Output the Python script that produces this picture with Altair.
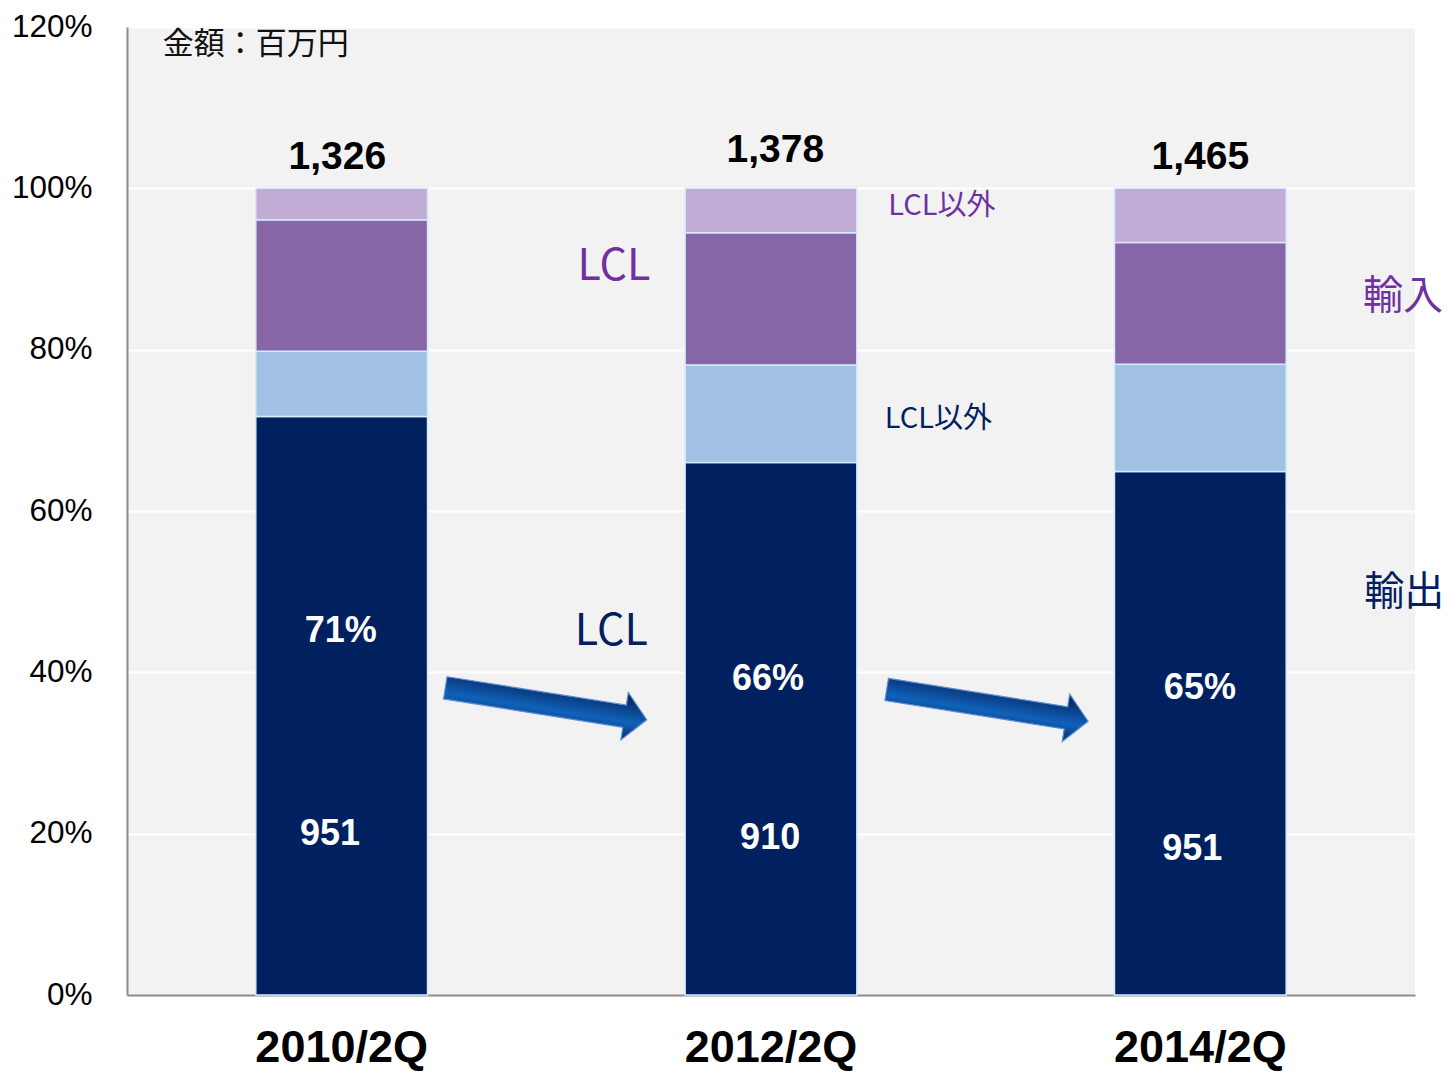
import altair as alt
import pandas as pd

# ---- data ----
periods = ["2010/2Q", "2012/2Q", "2014/2Q"]
totals = ["1,326", "1,378", "1,465"]
export_lcl_values = ["951", "910", "951"]
export_lcl_pct = ["71%", "66%", "65%"]

segments = ["輸出 LCL", "輸出 LCL以外", "輸入 LCL", "輸入 LCL以外"]
share_export_lcl = [71.7, 66.0, 64.9]
share_export_other = [8.1, 12.1, 13.3]
share_import_lcl = [16.3, 16.4, 15.1]
share_import_other = [3.9, 5.5, 6.7]

seg_colors = ["#002060", "#a0c0e4", "#8666a6", "#c0acd4"]

rows = []
for i, p in enumerate(periods):
    for k, (seg, vals) in enumerate(zip(segments, [share_export_lcl, share_export_other,
                                                    share_import_lcl, share_import_other])):
        rows.append({"period": p, "segment": seg, "share": vals[i], "ord": k})
bars_df = pd.DataFrame(rows)

XS = alt.Scale(domain=[0, 3], nice=False, zero=False)
YS = alt.Scale(domain=[0, 120], nice=False)
Y_AXIS = alt.Axis(values=[0, 20, 40, 60, 80, 100, 120],
                  labelExpr="datum.value + '%'", labelFontSize=31.5,
                  labelFont="Liberation Sans", labelColor="#000000",
                  labelPadding=35, ticks=False, domainColor="#8c8c8c",
                  domainWidth=2, gridColor="#ffffff", gridWidth=2, title=None)

bars = alt.Chart(bars_df).mark_bar(stroke="#d4ebff", strokeWidth=1.5).encode(
    x=alt.X("period:N", sort=periods, title=None,
            scale=alt.Scale(paddingInner=0.6, paddingOuter=0.3),
            axis=alt.Axis(labelAngle=0, labelFontSize=45, labelFontWeight="bold",
                          labelFont="Liberation Sans", labelColor="#000000",
                          labelPadding=30, ticks=False, domainColor="#8c8c8c",
                          domainWidth=2)),
    y=alt.Y("share:Q", stack="zero", scale=YS, title=None, axis=Y_AXIS),
    color=alt.Color("segment:N", scale=alt.Scale(domain=segments, range=seg_colors), legend=None),
    order=alt.Order("ord:Q"),
)


def txt(df, **kw):
    return alt.Chart(pd.DataFrame(df)).mark_text(**kw).encode(
        x=alt.X("x:Q", scale=XS, axis=None),
        y=alt.Y("y:Q", scale=YS, title=None, axis=Y_AXIS),
        text="t:N",
    )


total_lbl = txt({"x": [0.49, 1.51, 2.5], "y": [103.9, 104.8, 103.9], "t": totals},
                font="Liberation Sans", fontSize=39, fontWeight="bold", color="#000000",
                baseline="middle")
pct_lbl = txt({"x": [0.498, 1.493, 2.499], "y": [45.1, 39.2, 38.1], "t": export_lcl_pct},
              font="Liberation Sans", fontSize=36, fontWeight="bold", color="#ffffff",
              baseline="middle")
val_lbl = txt({"x": [0.473, 1.498, 2.481], "y": [20.0, 19.5, 18.1], "t": export_lcl_values},
              font="Liberation Sans", fontSize=36, fontWeight="bold", color="#ffffff",
              baseline="middle")
unit_lbl = txt({"x": [0.083], "y": [117.8], "t": ["金額：百万円"]},
               font="Noto Sans CJK JP", fontSize=31, color="#111111", align="left",
               baseline="middle")
lcl_purple = txt({"x": [1.134], "y": [90.3], "t": ["LCL"]},
                 font="Noto Sans CJK JP", fontSize=43, color="#7030a0", baseline="middle")
lcl_navy = txt({"x": [1.128], "y": [45.0], "t": ["LCL"]},
               font="Noto Sans CJK JP", fontSize=43, color="#002060", baseline="middle")
other_purple = txt({"x": [1.898], "y": [97.8], "t": ["LCL以外"]},
                   font="Noto Sans CJK JP", fontSize=29, color="#7030a0", baseline="middle")
other_navy = txt({"x": [1.890], "y": [71.4], "t": ["LCL以外"]},
                 font="Noto Sans CJK JP", fontSize=29, color="#002060", baseline="middle")
imp_lbl = txt({"x": [2.972], "y": [86.5], "t": ["輸入"]},
              font="Noto Sans CJK JP", fontSize=40, color="#7030a0", baseline="middle")
exp_lbl = txt({"x": [2.975], "y": [49.8], "t": ["輸出"]},
              font="Noto Sans CJK JP", fontSize=40, color="#002060", baseline="middle")

arrow_shape = "M-1,-0.11 L0.78,-0.11 L0.78,-0.235 L1,0 L0.78,0.235 L0.78,0.11 L-1,0.11 Z"
arrow_fill = alt.Gradient(
    gradient="linear", x1=0, x2=0, y1=0, y2=1,
    stops=[alt.GradientStop(color="#061c52", offset=0),
           alt.GradientStop(color="#1062ba", offset=0.62),
           alt.GradientStop(color="#0a2a6c", offset=1)],
)
arrows = alt.Chart(pd.DataFrame({"x": [0.976, 2.004], "y": [36.1, 35.9]})).mark_point(
    shape=arrow_shape, filled=True, fill=arrow_fill, stroke="#5b8fd4", strokeWidth=1.2,
    opacity=1, fillOpacity=1,
).encode(
    x=alt.X("x:Q", scale=XS, axis=None),
    y=alt.Y("y:Q", scale=YS, title=None, axis=Y_AXIS),
    size=alt.value(41600),
    angle=alt.value(9),
)

chart = alt.layer(
    bars, arrows, total_lbl, pct_lbl, val_lbl, unit_lbl, lcl_purple, lcl_navy,
    other_purple, other_navy, imp_lbl, exp_lbl,
).resolve_scale(x="independent").properties(
    width=1288, height=968,
    autosize=alt.AutoSizeParams(type="none"),
    padding={"left": 119, "top": 19, "right": 33, "bottom": 79},
    background="#ffffff",
).configure_view(fill="#f2f2f2", stroke=None)

chart.save("out.html", embed_options={"renderer": "svg", "actions": False})
